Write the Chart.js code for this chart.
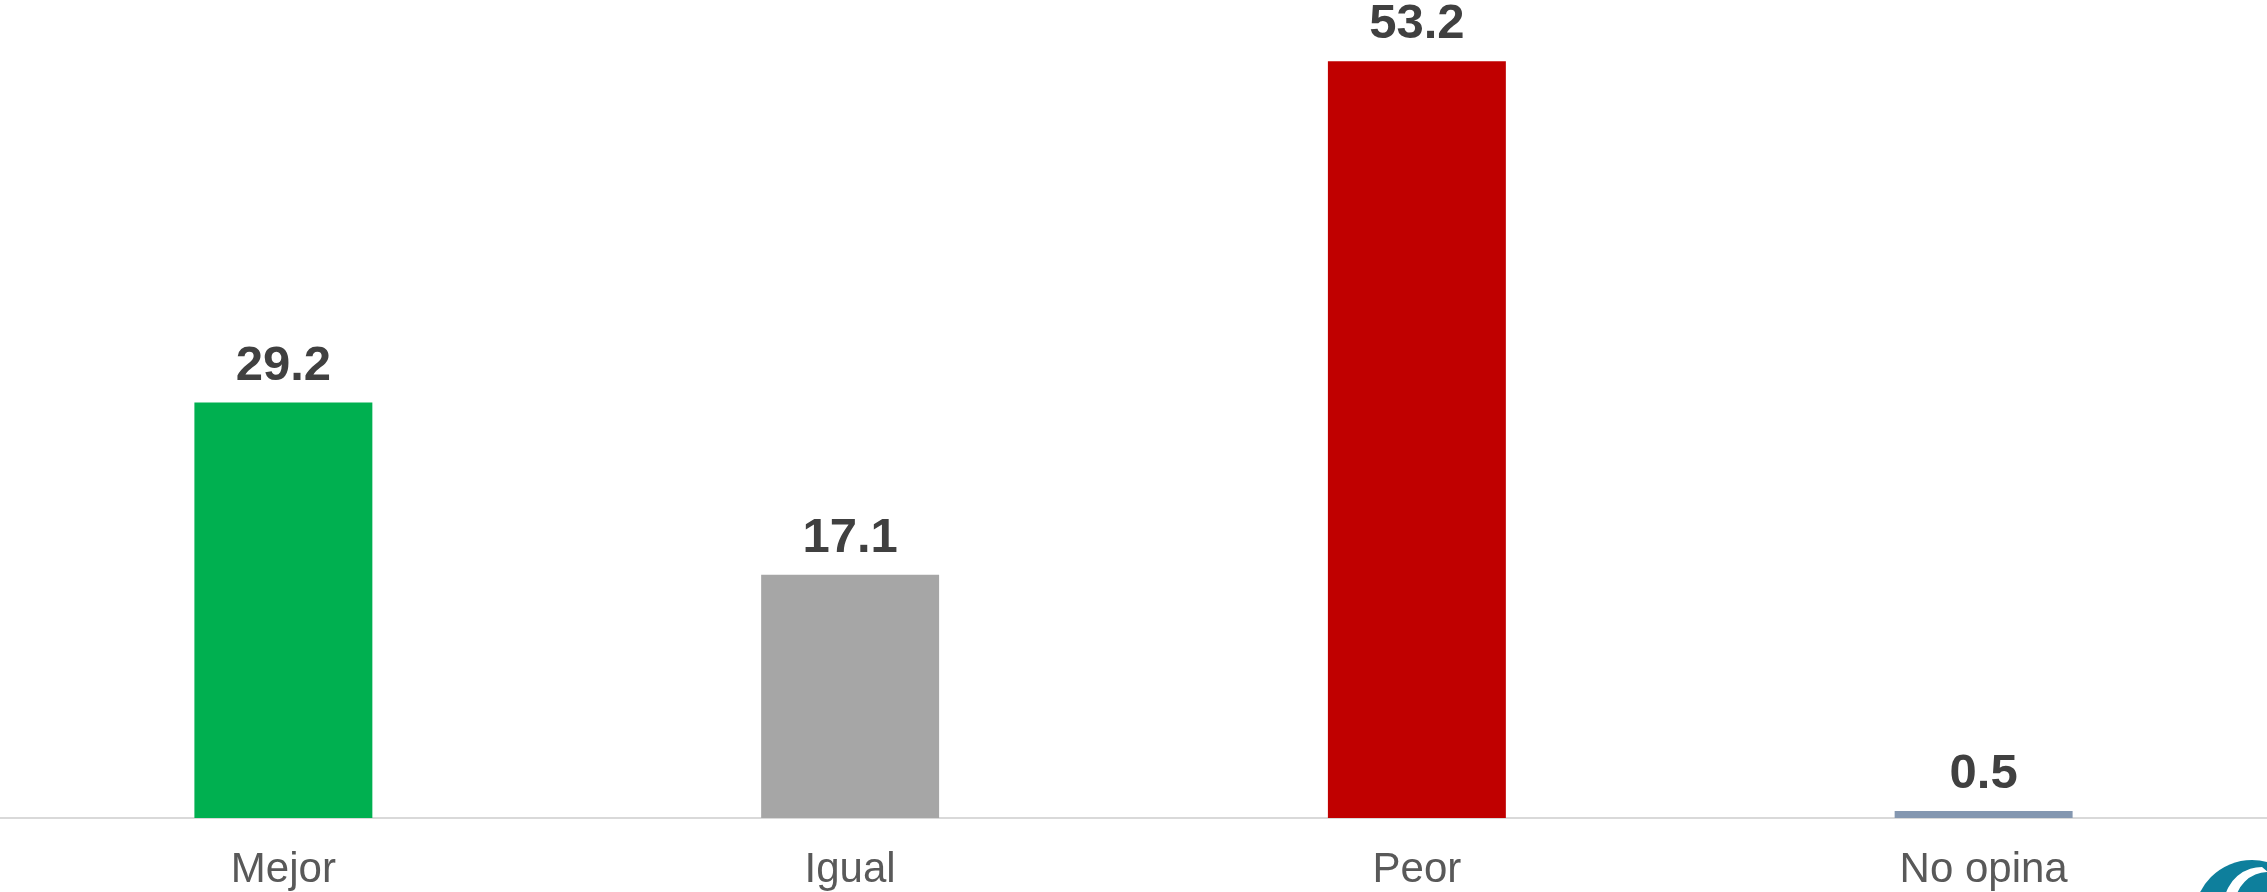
<!DOCTYPE html>
<html>
<head>
<meta charset="utf-8">
<script src="https://cdn.jsdelivr.net/npm/chart.js@4"></script>
<style>
  html, body { margin: 0; padding: 0; background: #ffffff; }
  #wrap { width: 2267px; height: 892px; position: relative; }
</style>
</head>
<body>
<div id="wrap"><canvas id="grafico"></canvas></div>
<script>
// Datos del gráfico
const categorias = ['Mejor', 'Igual', 'Peor', 'No opina'];
const valores = [29.2, 17.1, 53.2, 0.5];
const colores = ['#00b050', '#a6a6a6', '#c00000', '#8497b0'];

// Etiquetas de valor encima de cada barra
const etiquetasValor = {
    id: 'etiquetasValor',
    afterDatasetsDraw(chart) {
        const ctx = chart.ctx;
        const meta = chart.getDatasetMeta(0);
        ctx.save();
        ctx.fillStyle = '#404040';
        ctx.font = 'bold 49px "Liberation Sans", Arial, sans-serif';
        ctx.textAlign = 'center';
        ctx.textBaseline = 'alphabetic';
        meta.data.forEach((bar, i) => {
            ctx.fillText(valores[i].toFixed(1), bar.x, bar.y - 23);
        });
        ctx.restore();
    }
};

// Logo parcial en la esquina inferior derecha
const logo = {
    id: 'logo',
    afterDraw(chart) {
        const ctx = chart.ctx;
        ctx.save();
        ctx.fillStyle = '#0e7f9c';
        ctx.beginPath();
        ctx.arc(2252, 918, 58, 0, Math.PI * 2);
        ctx.fill();
        ctx.fillStyle = '#ffffff';
        ctx.beginPath();
        ctx.arc(2262, 905, 38, Math.PI * 0.9, Math.PI * 1.5);
        ctx.arc(2268, 905, 33, Math.PI * 1.5, Math.PI * 0.9, true);
        ctx.closePath();
        ctx.fill();
        ctx.restore();
    }
};

new Chart(document.getElementById('grafico'), {
    type: 'bar',
    data: {
        labels: categorias,
        datasets: [{
            data: valores,
            backgroundColor: colores,
            borderWidth: 0,
            barPercentage: 0.314,
            categoryPercentage: 1
        }]
    },
    options: {
        responsive: true,
        maintainAspectRatio: false,
        animation: false,
        layout: { padding: 0 },
        plugins: {
            legend: { display: false },
            tooltip: { enabled: false }
        },
        scales: {
            x: {
                grid: { display: false, drawTicks: false },
                border: { display: true, color: '#d9d9d9', width: 2 },
                ticks: {
                    color: '#595959',
                    padding: 27,
                    font: { family: '"Liberation Sans", Arial, sans-serif', size: 42, lineHeight: 1.2 }
                },
                afterFit(scale) {
                    scale.height = 74;
                }
            },
            y: {
                display: false,
                min: 0,
                max: 57.5
            }
        }
    },
    plugins: [etiquetasValor, logo]
});
</script>
</body>
</html>
